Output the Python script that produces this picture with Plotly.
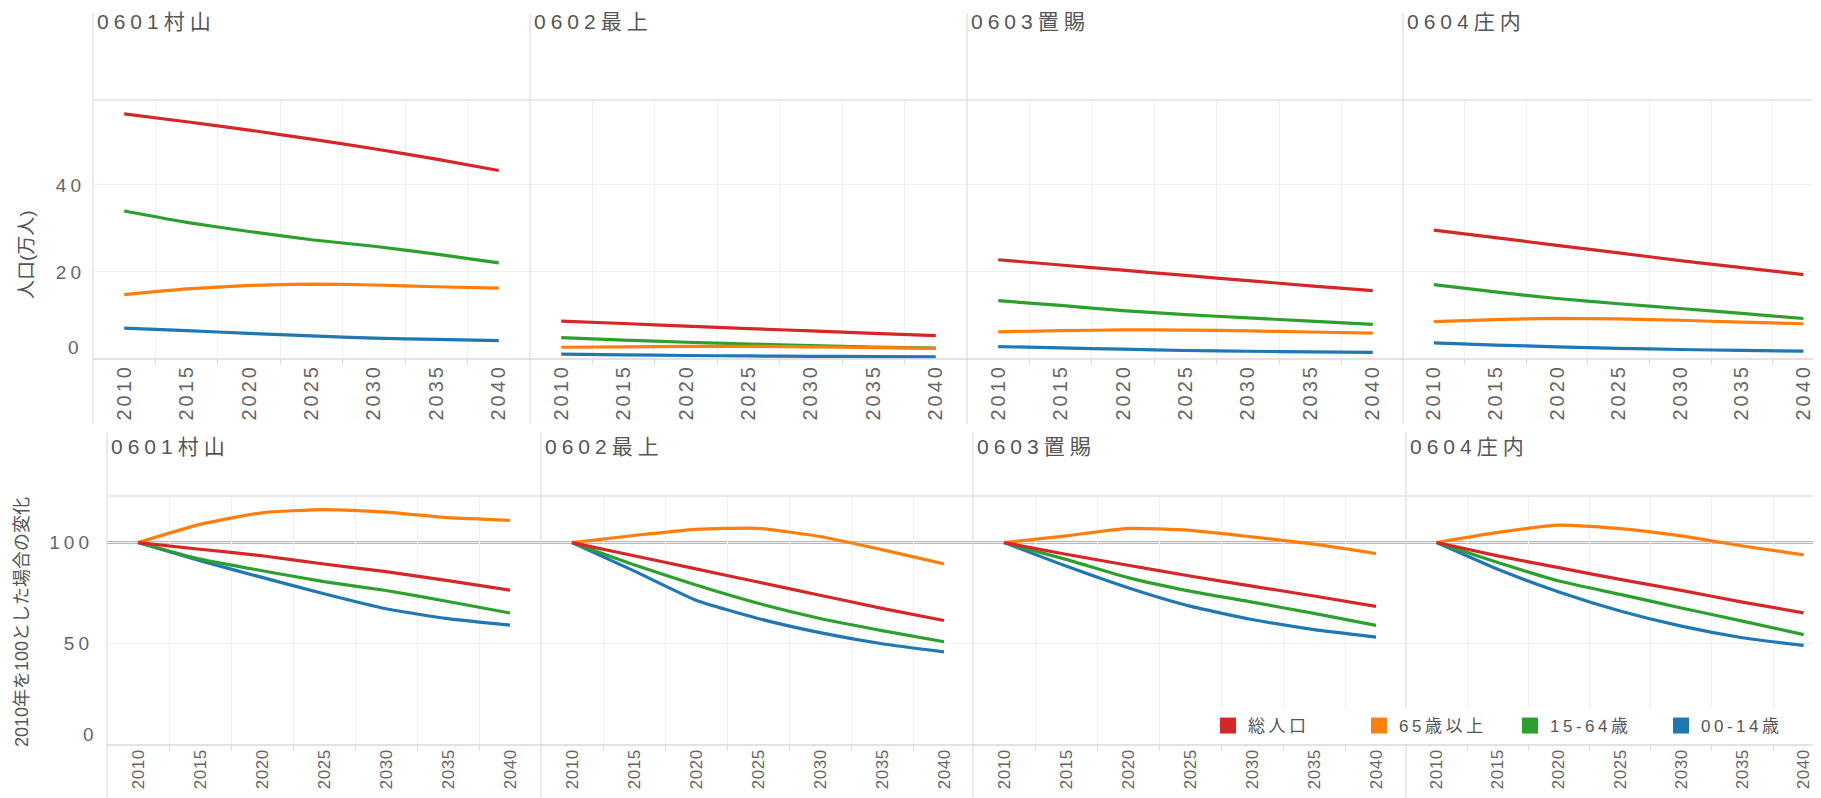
import plotly.graph_objects as go

# ---------------- data ----------------
years = [2010, 2015, 2020, 2025, 2030, 2035, 2040]
year_labels = ["2010", "2015", "2020", "2025", "2030", "2035", "2040"]
regions = ["0601村山", "0602最上", "0603置賜", "0604庄内"]
series_names = ["総人口", "65歳以上", "15-64歳", "00-14歳"]
series_colors = ["#d62728", "#ff7f0e", "#2ca02c", "#1f77b4"]

# population (万人), one list per region
pop_total = [
    [56.3, 54.5, 52.6, 50.5, 48.3, 45.9, 43.3],
    [8.7, 8.15, 7.55, 7.0, 6.45, 5.9, 5.35],
    [22.8, 21.6, 20.4, 19.2, 18.0, 16.8, 15.7],
    [29.6, 27.9, 26.1, 24.4, 22.6, 21.0, 19.4],
]
pop_65plus = [
    [14.8, 16.1, 16.9, 17.2, 17.0, 16.6, 16.3],
    [2.7, 2.8, 2.9, 2.9, 2.8, 2.6, 2.45],
    [6.25, 6.5, 6.7, 6.65, 6.45, 6.2, 5.95],
    [8.6, 9.05, 9.35, 9.2, 8.9, 8.45, 8.1],
]
pop_15_64 = [
    [34.0, 31.4, 29.3, 27.4, 25.9, 24.1, 22.1],
    [4.9, 4.35, 3.85, 3.45, 3.05, 2.75, 2.5],
    [13.4, 12.3, 11.1, 10.2, 9.45, 8.7, 7.95],
    [17.1, 15.4, 13.9, 12.7, 11.6, 10.5, 9.3],
]
pop_0_14 = [
    [7.1, 6.5, 5.9, 5.3, 4.8, 4.5, 4.2],
    [1.1, 0.95, 0.8, 0.7, 0.62, 0.55, 0.5],
    [2.85, 2.55, 2.25, 1.95, 1.78, 1.63, 1.52],
    [3.7, 3.2, 2.8, 2.45, 2.18, 1.97, 1.82],
]

# index (2010 = 100), one list per region
idx_total = [
    [100, 96.7, 93.5, 89.4, 85.6, 81.2, 76.5],
    [100, 93.5, 87.0, 80.5, 74.0, 67.5, 61.5],
    [100, 94.2, 88.8, 83.5, 78.5, 73.6, 68.5],
    [100, 93.4, 87.6, 81.8, 76.4, 70.6, 65.3],
]
idx_65plus = [
    [100, 109.0, 114.7, 116.3, 115.0, 112.3, 111.0],
    [100, 103.5, 106.5, 107.0, 103.0, 96.5, 89.5],
    [100, 103.3, 107.0, 106.0, 102.8, 99.2, 94.6],
    [100, 105.0, 108.6, 106.9, 103.3, 98.3, 93.9],
]
idx_15_64 = [
    [100, 91.8, 86.1, 80.7, 76.3, 70.9, 65.2],
    [100, 89.0, 79.0, 70.0, 62.5, 56.5, 51.0],
    [100, 91.7, 82.7, 76.0, 70.6, 65.0, 59.1],
    [100, 90.1, 81.0, 74.4, 67.7, 61.2, 54.5],
]
idx_0_14 = [
    [100, 91.0, 82.8, 74.7, 67.3, 62.4, 59.2],
    [100, 86.0, 71.5, 62.5, 55.5, 50.0, 46.0],
    [100, 88.4, 77.7, 68.6, 62.0, 57.0, 53.3],
    [100, 86.8, 75.6, 66.2, 58.7, 53.0, 49.2],
]

top_ticks = [20, 40]
bot_ticks = [50, 100]
zero_label = "0"
top_title = "人口(万人)"
bot_title = "2010年を100とした場合の変化"

# ---------------- layout geometry (window pixels) ----------------
OFF = 8                      # page body margin
W, H = 1821 - OFF, 798 - OFF  # figure size
top_cols = [(93, 530), (530, 967), (967, 1403), (1403, 1821)]
bot_cols = [(107, 541), (541, 973), (973, 1406), (1406, 1821)]
top_pane = (100, 359)
bot_pane = (496, 745)

def fx(p):
    return (p - OFF) / W

def fy(p):
    return 1 - (p - OFF) / H

def spaced(text, px):
    return f'<span style="letter-spacing:{px}px">{text}</span>'

FONT = "Liberation Sans, Arial, Noto Sans CJK JP, sans-serif"
TXT = "#666666"
TITLE_C = "#555555"

fig = go.Figure()

top_series = [pop_total, pop_65plus, pop_15_64, pop_0_14]
bot_series = [idx_total, idx_65plus, idx_15_64, idx_0_14]
draw_order = [3, 2, 1, 0]

for r in range(4):
    for k in draw_order:
        fig.add_trace(go.Scatter(
            x=years, y=top_series[k][r], mode="lines",
            line=dict(color=series_colors[k], width=3.2, shape="spline", smoothing=0.5),
            xaxis=f"x{r+1}", yaxis=f"y{r+1}", showlegend=False,
            name=series_names[k]))
        fig.add_trace(go.Scatter(
            x=years, y=bot_series[k][r], mode="lines",
            line=dict(color=series_colors[k], width=3.2, shape="spline", smoothing=0.5),
            xaxis=f"x{r+5}", yaxis=f"y{r+5}", showlegend=False,
            name=series_names[k]))

# legend entries (square swatches)
for k in range(4):
    fig.add_trace(go.Scatter(
        x=[None], y=[None], mode="markers",
        marker=dict(symbol="square", size=16, color=series_colors[k]),
        name=spaced(series_names[k], 3.5), xaxis="x8", yaxis="y8", showlegend=True))

layout = dict(
    width=W, height=H, margin=dict(l=0, r=0, t=0, b=0, autoexpand=False),
    paper_bgcolor="white", plot_bgcolor="white",
    font=dict(family=FONT, color=TXT, size=16),
    legend=dict(orientation="h", x=fx(1208), y=fy(726), xanchor="left", yanchor="middle",
                bgcolor="white", font=dict(size=17, color="#555555"),
                entrywidth=106, entrywidthmode="pixels", itemclick=False,
                tracegroupgap=0),
    showlegend=True,
)

minor_vals = [2012.5, 2017.5, 2022.5, 2027.5, 2032.5, 2037.5]

def xaxis_cfg(col, bottom_row, last):
    x0, x1 = col
    px_per_year = (434 if bottom_row else 437) / 35
    right = 2007.5 + (x1 - x0) / px_per_year + (0.45 if last else 0.0)
    if bottom_row:
        labels, size = [spaced(t, 0.5) for t in year_labels], 17
    else:
        labels, size = [spaced(t, 3) for t in year_labels], 20
    return dict(
        domain=[fx(x0), min(1.0, fx(x1))], range=[2007.5, right],
        tickmode="array", tickvals=years, ticktext=labels,
        tickangle=-90, tickfont=dict(size=size, color=TXT),
        showgrid=False, zeroline=False, showline=False, ticks="",
        minor=dict(tickmode="array", tickvals=minor_vals, showgrid=True,
                   gridcolor="#efefef", gridwidth=1, ticks="outside",
                   ticklen=5, tickcolor="#dddddd"),
        automargin=False, fixedrange=True,
    )

for r in range(4):
    i = r + 1
    j = r + 5
    last = (r == 3)
    layout[f"xaxis{i}"] = dict(xaxis_cfg(top_cols[r], False, last), anchor=f"y{i}")
    layout[f"yaxis{i}"] = dict(
        domain=[fy(top_pane[1]), fy(top_pane[0])], range=[0, 59.5],
        tickmode="array", tickvals=top_ticks,
        ticktext=[spaced(str(v), 4) for v in top_ticks],
        showticklabels=(r == 0), tickfont=dict(size=19, color=TXT),
        ticklabelstandoff=7,
        showgrid=True, gridcolor="#f0f0f0", zeroline=False, showline=False,
        anchor=f"x{i}", automargin=False, fixedrange=True)
    layout[f"xaxis{j}"] = dict(xaxis_cfg(bot_cols[r], True, last), anchor=f"y{j}")
    layout[f"yaxis{j}"] = dict(
        domain=[fy(bot_pane[1]), fy(bot_pane[0])], range=[0, 123],
        tickmode="array", tickvals=bot_ticks,
        ticktext=[spaced(str(v), 4) for v in bot_ticks],
        showticklabels=(r == 0), tickfont=dict(size=19, color=TXT),
        ticklabelstandoff=13,
        showgrid=True, gridcolor="#f0f0f0", zeroline=False, showline=False,
        anchor=f"x{j}", automargin=False, fixedrange=True)

fig.update_layout(**layout)

shapes = []
SEP = "#d6d6d6"
# vertical panel separators
for x0, _ in top_cols:
    shapes.append(dict(type="line", xref="paper", yref="paper",
                       x0=fx(x0), x1=fx(x0), y0=fy(13), y1=fy(424),
                       line=dict(color=SEP, width=1)))
for x0, _ in bot_cols:
    shapes.append(dict(type="line", xref="paper", yref="paper",
                       x0=fx(x0), x1=fx(x0), y0=fy(432), y1=0,
                       line=dict(color=SEP, width=1)))
# pane top borders and zero lines
shapes.append(dict(type="line", xref="paper", yref="paper", x0=fx(93), x1=1,
                   y0=fy(top_pane[0]), y1=fy(top_pane[0]), line=dict(color="#e2e2e2", width=1.5)))
shapes.append(dict(type="line", xref="paper", yref="paper", x0=fx(107), x1=1,
                   y0=fy(bot_pane[0]), y1=fy(bot_pane[0]), line=dict(color="#e2e2e2", width=1.5)))
shapes.append(dict(type="line", xref="paper", yref="paper", x0=fx(93), x1=1,
                   y0=fy(top_pane[1]), y1=fy(top_pane[1]), line=dict(color="#d9d9d9", width=1.5)))
shapes.append(dict(type="line", xref="paper", yref="paper", x0=fx(107), x1=1,
                   y0=fy(bot_pane[1]), y1=fy(bot_pane[1]), line=dict(color="#d9d9d9", width=1.5)))
# reference line at 100
for r in range(4):
    j = r + 5
    shapes.append(dict(type="line", xref=f"x{j} domain", yref=f"y{j}",
                       x0=0, x1=1, y0=100, y1=100,
                       line=dict(color="#b9b9b9", width=3), layer="below"))

annotations = []
for r in range(4):
    annotations.append(dict(text=spaced(regions[r], 5), xref="paper", yref="paper",
                            x=fx(top_cols[r][0] + 2), y=fy(22), xanchor="left", yanchor="middle",
                            showarrow=False, font=dict(size=21, color=TITLE_C)))
    annotations.append(dict(text=spaced(regions[r], 5), xref="paper", yref="paper",
                            x=fx(bot_cols[r][0] + 2), y=fy(447), xanchor="left", yanchor="middle",
                            showarrow=False, font=dict(size=21, color=TITLE_C)))
# zero labels sit just above the baseline, as in the original
annotations.append(dict(text=zero_label, xref="paper", yref="y1", x=fx(81), y=0,
                        xanchor="right", yanchor="middle", yshift=11, showarrow=False,
                        font=dict(size=19, color=TXT)))
annotations.append(dict(text=zero_label, xref="paper", yref="y5", x=fx(96), y=0,
                        xanchor="right", yanchor="middle", yshift=11, showarrow=False,
                        font=dict(size=19, color=TXT)))
annotations.append(dict(text=top_title, xref="paper", yref="paper", x=fx(26), y=fy(255),
                        textangle=-90, showarrow=False, xanchor="center", yanchor="middle",
                        font=dict(size=19, color="#555555")))
annotations.append(dict(text=bot_title, xref="paper", yref="paper", x=fx(22), y=fy(622),
                        textangle=-90, showarrow=False, xanchor="center", yanchor="middle",
                        font=dict(size=18, color="#555555")))

fig.update_layout(shapes=shapes, annotations=annotations)

fig.write_html("out.html")
